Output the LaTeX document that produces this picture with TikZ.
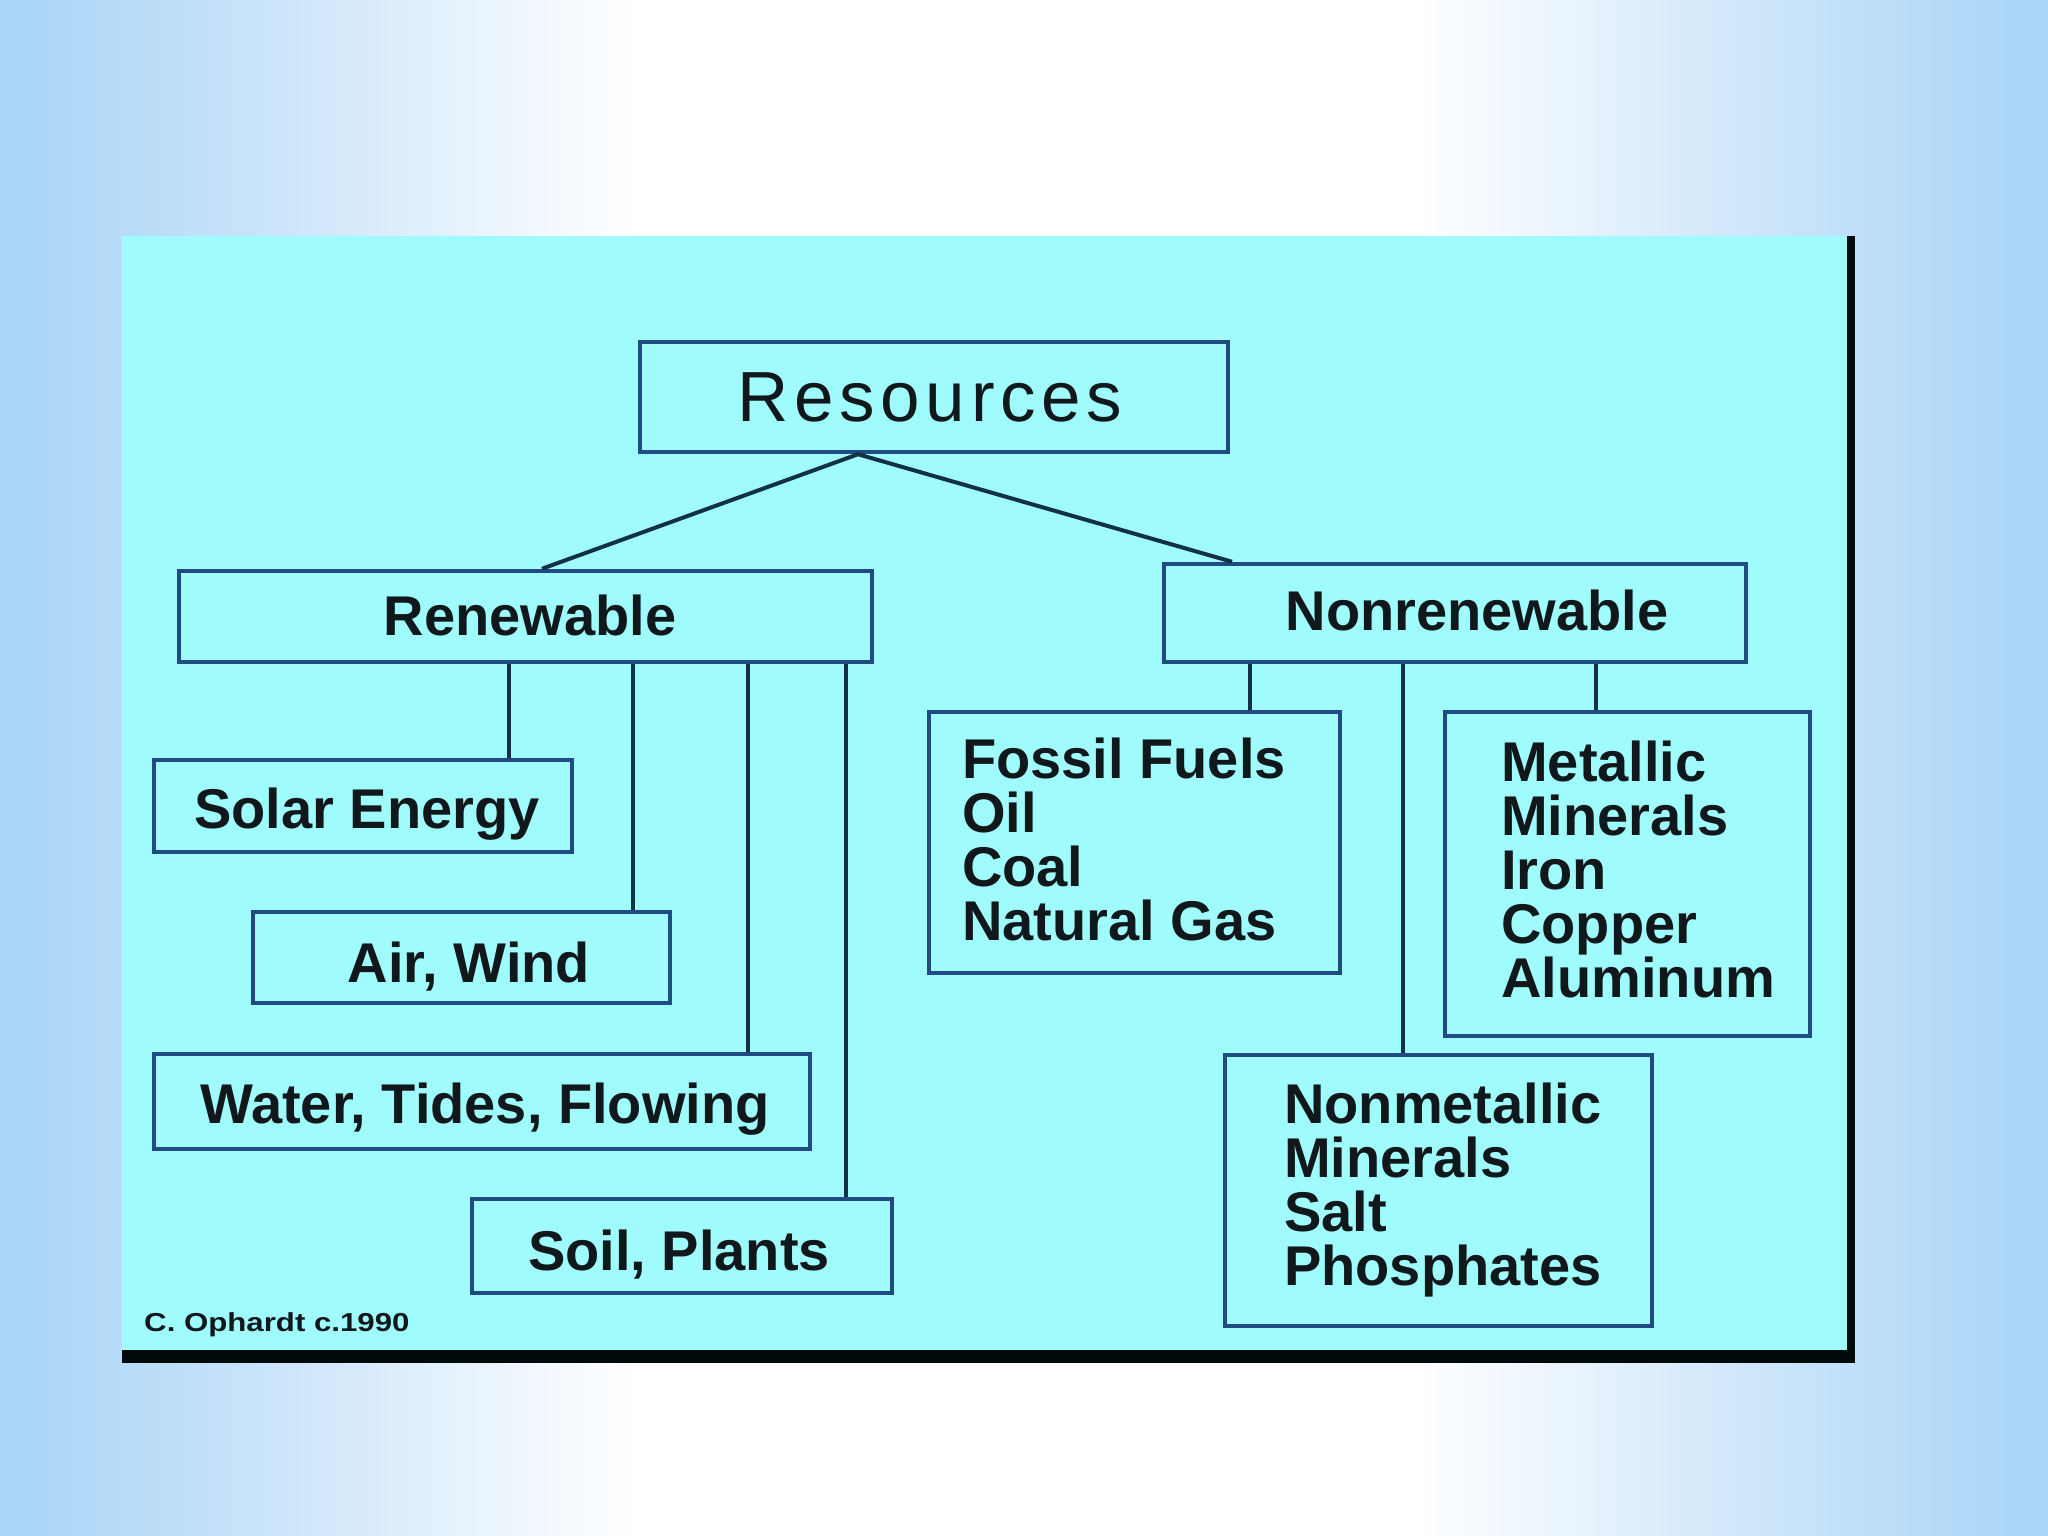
\documentclass[tikz,border=0pt]{standalone}
\usepackage{fontspec}
\setmainfont{Liberation Sans}
\definecolor{edgeblue}{RGB}{172,214,247}
\definecolor{midblue}{RGB}{208,231,250}
\definecolor{panelc}{RGB}{160,251,253}
\definecolor{boxline}{RGB}{32,74,130}
\definecolor{conn}{RGB}{18,50,66}
\definecolor{ink}{RGB}{16,24,28}
\pgfdeclarehorizontalshading{bgsh}{100bp}{color(0bp)=(edgeblue); color(26bp)=(edgeblue); color(32.5bp)=(midblue); color(40.5bp)=(white); color(59.5bp)=(white); color(67.5bp)=(midblue); color(74bp)=(edgeblue); color(100bp)=(edgeblue)}
\newcommand\stackL[1]{\vtop{\baselineskip=54pt\lineskiplimit=-100pt\lineskip=0pt #1}}
\newcommand\lineL[1]{\hbox{#1}}
\begin{document}
\begin{tikzpicture}[x=1pt,y=-1pt,
  box/.style={draw=boxline, line width=4.5pt, fill=panelc, rectangle, inner sep=0pt},
  lbl/.style={font=\bfseries\fontsize{56}{54}\selectfont, text=ink, inner sep=0pt, anchor=base},
  lblw/.style={lbl, anchor=base west},
  link/.style={draw=conn, line width=4pt}]
\useasboundingbox (0,0) rectangle (2048,1536);
\shade[shading=bgsh] (0,0) rectangle (2048,1536);
% panel with shadow
\fill[black!92!teal] (122,236) rectangle (1855,1363);
\fill[panelc] (122,236) rectangle (1847,1350);
% boxes
\node[box, minimum width=588pt, minimum height=110pt] (res) at (934,397) {};
\node[box, minimum width=693pt, minimum height=91pt] (ren) at (525.5,616.5) {};
\node[box, minimum width=582pt, minimum height=98pt] (non) at (1455,613) {};
\node[box, minimum width=418pt, minimum height=92pt] (sol) at (363,806) {};
\node[box, minimum width=417pt, minimum height=91pt] (air) at (461.5,957.5) {};
\node[box, minimum width=656pt, minimum height=95pt] (wat) at (482,1101.5) {};
\node[box, minimum width=420pt, minimum height=94pt] (soi) at (682,1246) {};
\node[box, minimum width=411pt, minimum height=261pt] (fos) at (1134.5,842.5) {};
\node[box, minimum width=365pt, minimum height=324pt] (met) at (1627.5,874) {};
\node[box, minimum width=427pt, minimum height=271pt] (nmet) at (1438.5,1190.5) {};
% connector x positions
\coordinate (ax) at (858,0);
\coordinate (rl) at (542,0);
\coordinate (rr) at (1232,0);
\coordinate (v1) at (509,0);
\coordinate (v2) at (633,0);
\coordinate (v3) at (748,0);
\coordinate (v4) at (846,0);
\coordinate (n1) at (1250,0);
\coordinate (n2) at (1403,0);
\coordinate (n3) at (1596,0);
\draw[link] (ren.north -| rl) -- (res.south -| ax) -- (non.north -| rr);
\draw[link] (ren.south -| v1) -- (sol.north -| v1);
\draw[link] (ren.south -| v2) -- (air.north -| v2);
\draw[link] (ren.south -| v3) -- (wat.north -| v3);
\draw[link] (ren.south -| v4) -- (soi.north -| v4);
\draw[link] (non.south -| n1) -- (fos.north -| n1);
\draw[link] (non.south -| n2) -- (nmet.north -| n2);
\draw[link] (non.south -| n3) -- (met.north -| n3);
% labels
\node[lbl, font=\fontsize{71}{71}\selectfont\addfontfeature{LetterSpace=8}] (resT) at (930,421) {Resources};
\node[lbl] (renT) at (530,635) {Renewable};
\node[lbl] (nonT) at (1477,630) {Nonrenewable};
\node[lbl] (solT) at (367,828) {Solar Energy};
\node[lbl] (airT) at (469,982) {Air, Wind};
\node[lbl] (watT) at (485,1123) {Water, Tides, Flowing};
\node[lbl] (soiT) at (679,1270) {Soil, Plants};
\node[lblw] (fosT) at (962,778) {\stackL{\lineL{Fossil Fuels}\lineL{Oil}\lineL{Coal}\lineL{Natural Gas}}};
\node[lblw] (metT) at (1501,781) {\stackL{\lineL{Metallic}\lineL{Minerals}\lineL{Iron}\lineL{Copper}\lineL{Aluminum}}};
\node[lblw] (nmT) at (1284,1123) {\stackL{\lineL{Nonmetallic}\lineL{Minerals}\lineL{Salt}\lineL{Phosphates}}};
\node[lblw, font=\bfseries\fontsize{26}{26}\selectfont, xscale=1.2] (cred) at (144,1331) {C. Ophardt c.1990};
\end{tikzpicture}
\end{document}
